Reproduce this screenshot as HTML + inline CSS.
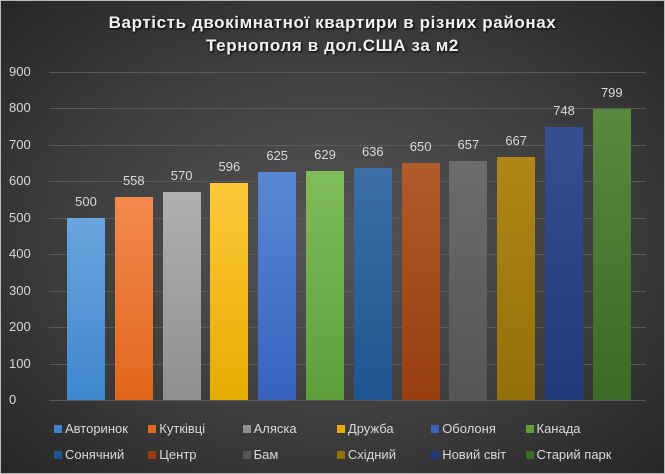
<!DOCTYPE html>
<html><head><meta charset="utf-8"><style>
body{margin:0;background:#fff}
#c{position:relative;width:663px;height:472px;border:1px solid #bcbcbc;background:radial-gradient(ellipse at 50% 50%,#555 0%,#3e3e3e 55%,#262626 100%);overflow:hidden;font-family:"Liberation Sans","DejaVu Sans",sans-serif;color:#d9d9d9}
.t{position:absolute;left:0;width:663px;text-align:center;font-weight:bold;font-size:17px;color:#f2f2f2;letter-spacing:0.6px;text-shadow:1px 1px 2px #000}
.g{position:absolute;left:48px;width:597px;height:1px;background:#5a5a5a}
.y{position:absolute;left:8px;width:26px;font-size:13px;text-align:left}
.b{position:absolute;width:38px}
.v{position:absolute;width:48px;text-align:center;font-size:13px}
.l{position:absolute;font-size:13px;white-space:nowrap}
.l i{display:inline-block;width:8px;height:8px;margin-right:3px;vertical-align:0px}
</style></head><body><div id="c">
<div class="t" style="top:12px">Вартість двокімнатної квартири в різних районах</div>
<div class="t" style="top:35px">Тернополя в дол.США за м2</div>
<div id="p"></div>
</div>
<script>
const c=document.getElementById('c');
const data=[[500,'Авторинок','#6aa6e0','#3f86cc'],[558,'Кутківці','#f28a4d','#e2661c'],[570,'Аляска','#b0b0b0','#8f8f8f'],[596,'Дружба','#ffc83a','#e6ac00'],[625,'Оболоня','#5a87d4','#3763bf'],[629,'Канада','#80bd5a','#5f9e3a'],[636,'Сонячний','#3c6fa6','#1e5590'],[650,'Центр','#b35a2c','#973e0c'],[657,'Бам','#6c6c6c','#555'],[667,'Східний','#b08716','#93700a'],[748,'Новий світ','#34508f','#1f3a78'],[799,'Старий парк','#578a3f','#3a6a26']];
const Y=v=>399-v*0.3644;
let h='';
for(let i=0;i<=9;i++){const y=Y(i*100);h+=`<div class="g" style="top:${y}px"></div><div class="y" style="top:${y-8}px">${i*100}</div>`}
data.forEach((d,i)=>{const x=66+i*47.8,y=Y(d[0]);
h+=`<div class="b" style="left:${x}px;top:${y}px;height:${399-y}px;background:linear-gradient(${d[2]},${d[3]})"></div><div class="v" style="left:${x-5}px;top:${y-24}px">${d[0]}</div>`;
const r=i<6?0:1,k=i%6;
h+=`<div class="l" style="left:${53+k*94.3}px;top:${420+r*26}px"><i style="background:${d[3]}"></i>${d[1]}</div>`});
c.insertAdjacentHTML('beforeend',h);
</script>
</body></html>
